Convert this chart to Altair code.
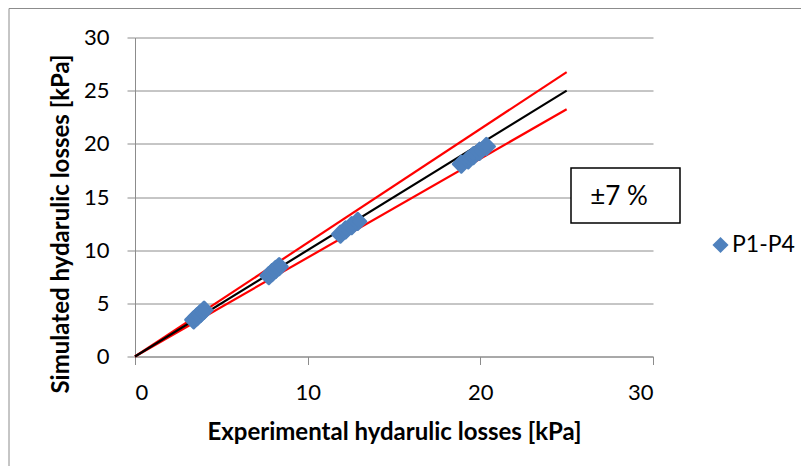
import altair as alt
import pandas as pd

# ---- data ----
exp_x = [3.4, 3.6, 3.8, 4.0,
         7.75, 7.95, 8.15, 8.35,
         11.9, 12.2, 12.55, 12.9,
         18.9, 19.3, 19.6, 19.95, 20.35]
sim_y = [3.45, 3.75, 4.05, 4.35,
         7.6, 7.9, 8.2, 8.45,
         11.5, 11.9, 12.3, 12.7,
         18.1, 18.5, 18.9, 19.3, 19.75]
series_name = "P1-P4"

line_x = [0, 25]
ideal_y = [0, 25]
upper_y = [0, 26.75]
lower_y = [0, 23.25]

x_ticks = [0, 10, 20, 30]
y_ticks = [0, 5, 10, 15, 20, 25, 30]
band_label = "\u00b17 %"

pts = pd.DataFrame({"x": exp_x, "y": sim_y, "series": [series_name] * len(exp_x)})
lines = pd.DataFrame({
    "x": line_x * 3,
    "y": upper_y + lower_y + ideal_y,
    "kind": ["upper"] * 2 + ["lower"] * 2 + ["ideal"] * 2,
})

GRID = "#8C8C8C"
W, H = 518, 319

xs = alt.Scale(domain=[0, 30], nice=False)
ys = alt.Scale(domain=[0, 30], nice=False)

x_axis = alt.Axis(values=x_ticks, grid=False, tickSize=8, labelPadding=35,
                  labelBaseline="alphabetic", labelFontSize=22,
                  title="Experimental hydarulic losses [kPa]",
                  titleFontSize=24, titleFontWeight="bold",
                  titleX=259, titleY=83, titleBaseline="alphabetic", titleAnchor="middle")
y_axis = alt.Axis(values=y_ticks, grid=True, tickSize=8, labelPadding=18,
                  labelFontSize=22, labelBaseline="middle",
                  title="Simulated hydarulic losses [kPa]",
                  titleFontSize=24, titleFontWeight="bold",
                  titleX=-74, titleY=186, titleBaseline="middle", titleAnchor="middle")

base = alt.Chart(lines)

frame = alt.Chart(pd.DataFrame({"a": [0]})).mark_rect(
    fillOpacity=0, stroke=GRID, strokeWidth=1
).encode(x=alt.value(-126), x2=alt.value(900), y=alt.value(-29), y2=alt.value(700))

red = base.transform_filter(alt.datum.kind != "ideal").mark_line(
    color="#FF0000", strokeWidth=2.2
).encode(
    x=alt.X("x:Q", scale=xs, axis=x_axis),
    y=alt.Y("y:Q", scale=ys, axis=y_axis),
    detail="kind:N",
)
black = base.transform_filter(alt.datum.kind == "ideal").mark_line(
    color="#000000", strokeWidth=2.2
).encode(x=alt.X("x:Q", scale=xs), y=alt.Y("y:Q", scale=ys))

points = alt.Chart(pts).mark_point(
    shape="diamond", filled=True, size=260, opacity=1, strokeWidth=3,
    stroke="#4F81BD", strokeJoin="round"
).encode(
    x=alt.X("x:Q", scale=xs),
    y=alt.Y("y:Q", scale=ys),
    color=alt.Color("series:N", scale=alt.Scale(domain=[series_name], range=["#4F81BD"]),
                    legend=alt.Legend(title=None, orient="none", legendX=574, legendY=196,
                                      symbolType="diamond", symbolSize=260,
                                      symbolStrokeWidth=0,
                                      labelFontSize=23, labelOffset=0, padding=0,
                                      labelColor="#000000")),
)

box = alt.Chart(pd.DataFrame({"a": [0]})).mark_rect(
    fill="white", stroke="black", strokeWidth=1.5
).encode(x=alt.value(436), x2=alt.value(545), y=alt.value(130.5), y2=alt.value(185.5))
box_text = alt.Chart(pd.DataFrame({"t": [band_label]})).mark_text(
    fontSize=26, align="center", baseline="middle", color="black"
).encode(x=alt.value(484), y=alt.value(159), text="t:N")

chart = alt.layer(frame, red, black, points, box, box_text).properties(
    width=W, height=H,
    autosize=alt.AutoSizeParams(type="none"),
    padding={"left": 127, "top": 29.5, "right": 148, "bottom": 109},
).configure(font="Lato").configure_view(stroke=None).configure_axis(
    domainColor=GRID, tickColor=GRID, gridColor=GRID, gridWidth=1,
    domainWidth=1, tickWidth=1, labelColor="#000000", titleColor="#000000",
)

chart.save("out.html", embed_options={"renderer": "svg", "actions": False})
